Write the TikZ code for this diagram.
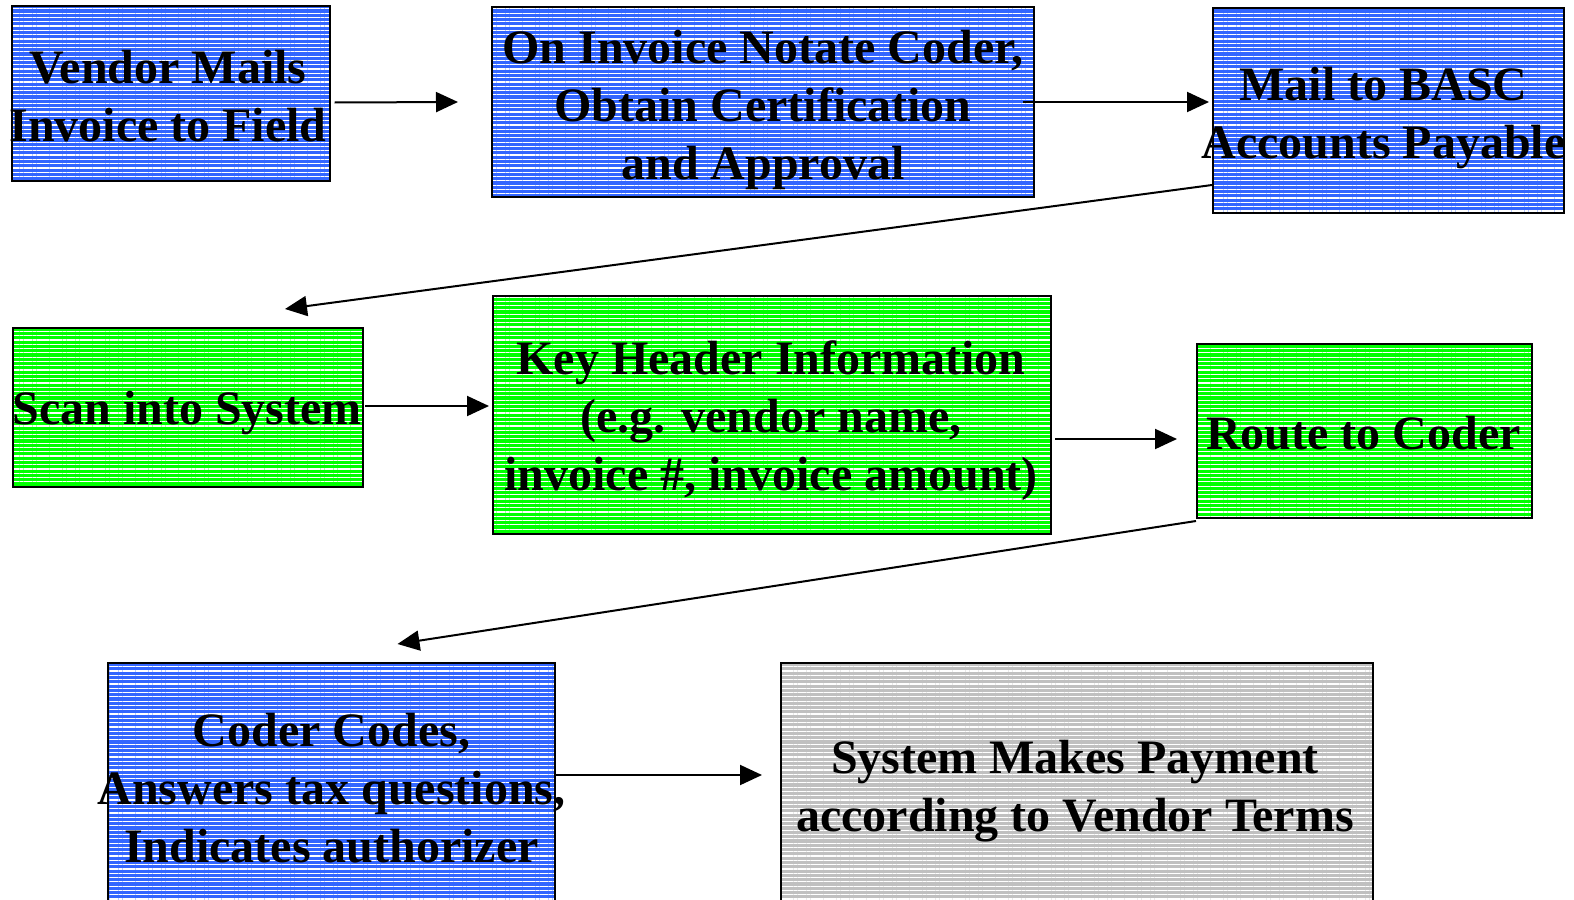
\documentclass[tikz,border=0pt]{standalone}
\usepackage{fontspec}
\setmainfont{Liberation Serif}
\usetikzlibrary{patterns.meta,arrows.meta,calc}
\definecolor{boxblue}{HTML}{3366FF}
\definecolor{boxgreen}{HTML}{00FF00}
\definecolor{boxgray}{HTML}{C0C0C0}
\tikzset{
  box/.style={draw=black, line width=2bp, inner sep=0pt,
    preaction={fill=#1},
    pattern={Lines[angle=0,distance=4.3bp,line width=1.2bp]}, pattern color=white},
  label/.style={inner sep=0pt, align=center,
    font=\bfseries\fontsize{48bp}{58bp}\selectfont},
  flow/.style={line width=2bp, -{Triangle[length=22bp,width=20bp]}}
}
\begin{document}
\begin{tikzpicture}[x=1bp,y=-1bp]
\useasboundingbox (0,0) rectangle (1574,899);
\clip (0,0) rectangle (1574,899);
\node[box=boxblue, minimum width=318bp, minimum height=175bp] (b1) at (171,93.5) {};
\node[box=boxblue, minimum width=542bp, minimum height=190bp] (b2) at (763,102) {};
\node[box=boxblue, minimum width=351bp, minimum height=205bp] (b3) at (1388.5,110.5) {};
\node[box=boxgreen, minimum width=350bp, minimum height=159bp] (b4) at (188,407.5) {};
\node[box=boxgreen, minimum width=558bp, minimum height=238bp] (b5) at (772,415) {};
\node[box=boxgreen, minimum width=335bp, minimum height=174bp] (b6) at (1364.5,431) {};
\node[box=boxblue, minimum width=447bp, minimum height=246bp] (b7) at (331.5,786) {};
\node[box=boxgray, minimum width=592bp, minimum height=246bp] (b8) at (1077,786) {};

\node[label] (t1) at ($(b1.center)+(-3,3)$) {Vendor Mails\\Invoice to Field};
\node[label] (t2) at ($(b2.center)+(0,8)$) {On Invoice Notate Coder,\\Obtain Certification\\and Approval};
\node[label] (t3) at ($(b3.center)+(-5,8)$) {Mail to BASC\\Accounts Payable};
\node[label] (t4) at ($(b4.center)+(-1,6)$) {Scan into System};
\node[label] (t5) at ($(b5.center)+(-1,6)$) {Key Header Information\\(e.g. vendor name,\\invoice \#, invoice amount)};
\node[label] (t6) at ($(b6.center)+(-1,2)$) {Route to Coder};
\node[label] (t7) at ($(b7.center)+(0,2)$) {Coder Codes,\\Answers tax questions,\\Indicates authorizer};
\node[label] (t8) at ($(b8.center)+(-2,5)$) {System Makes Payment\\according to Vendor Terms};

\draw[flow] ($(b1.east)+(4,9)$) -- ($(b2.west)+(-33,0)$);
\draw[flow] ([xshift=-12bp]b2.east) -- ($(b3.west)+(-3,-8.5)$);
\draw[flow] ($(b3.south west)+(0,-29)$) -- ($(b4.north east)+(-79,-18)$);
\draw[flow] ($(b4.east)+(1,-1.5)$) -- ($(b5.west)+(-3,-9)$);
\draw[flow] ($(b5.east)+(3,24)$) -- ($(b6.west)+(-19,8)$);
\draw[flow] ($(b6.south west)+(0,2)$) -- ($(b7.north)+(66,-18)$);
\draw[flow] ($(b7.east)+(0,-11)$) -- ($(b8.west)+(-18,-11)$);
\end{tikzpicture}
\end{document}
